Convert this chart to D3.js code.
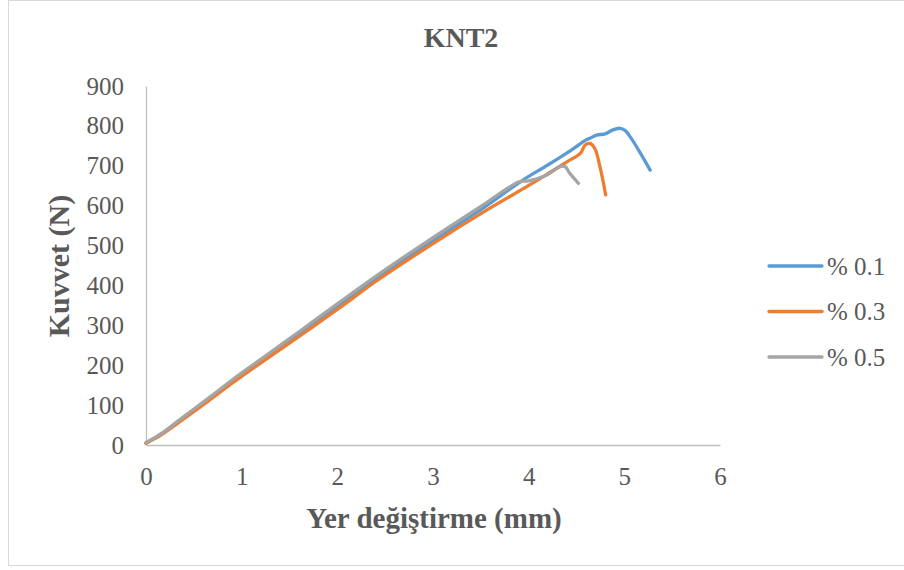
<!DOCTYPE html>
<html>
<head>
<meta charset="utf-8">
<script src="https://cdn.jsdelivr.net/npm/d3@7/dist/d3.min.js"></script>
<style>
  html, body { margin: 0; padding: 0; background: #fff; }
  svg { display: block; }
  text { font-family: "Liberation Serif", "Times New Roman", serif; fill: #595959; }
</style>
</head>
<body>
<svg id="chart" width="904" height="570"></svg>
<script>
// Force–displacement curves for specimen KNT2
const seriesNames = ["% 0.1", "% 0.3", "% 0.5"];
const seriesColors = ["#5B9BD5", "#ED7D31", "#A5A5A5"];

const disp01 = [0, 0.15, 0.35, 0.65, 0.9, 1.2, 1.6, 2.0, 2.45, 3.0, 3.5, 3.94, 4.2, 4.45, 4.6, 4.64, 4.71, 4.8, 4.88, 4.955, 5.01, 5.06, 5.16, 5.27];
const force01 = [5, 26, 61, 114, 160, 212, 280, 348, 425, 512, 590, 664, 702, 740, 765, 769, 777, 780, 790, 794, 788, 773, 735, 689];

const disp03 = [0, 0.15, 0.35, 0.65, 0.9, 1.2, 1.6, 2.0, 2.45, 3.0, 3.5, 4.01, 4.2, 4.4, 4.54, 4.59, 4.64, 4.69, 4.745, 4.805];
const force03 = [4, 24, 58, 110, 155, 206, 272, 340, 418, 505, 580, 652, 680, 710, 731, 752, 756, 744, 698, 627];

const disp05 = [0, 0.15, 0.35, 0.65, 0.9, 1.2, 1.6, 2.0, 2.45, 3.0, 3.5, 3.9, 4.0, 4.19, 4.33, 4.38, 4.43, 4.52];
const force05 = [6, 27, 63, 117, 163, 215, 284, 354, 431, 520, 598, 660, 662, 677, 698, 698, 681, 656];

const xTicks = [0, 1, 2, 3, 4, 5, 6];
const yTicks = [0, 100, 200, 300, 400, 500, 600, 700, 800, 900];

const series = [
  { name: seriesNames[0], color: seriesColors[0], x: disp01, y: force01 },
  { name: seriesNames[1], color: seriesColors[1], x: disp03, y: force03 },
  { name: seriesNames[2], color: seriesColors[2], x: disp05, y: force05 }
];

const svg = d3.select("#chart");

// chart frame
svg.append("rect")
  .attr("x", 8.5).attr("y", 0.5)
  .attr("width", 900).attr("height", 565)
  .attr("fill", "#fff").attr("stroke", "#D9D9D9").attr("stroke-width", 1);

const plot = { left: 146, right: 720, top: 86, bottom: 445 };

const x = d3.scaleLinear().domain([0, 6]).range([plot.left, plot.right]);
const y = d3.scaleLinear().domain([0, 900]).range([plot.bottom, plot.top]);

// axes
const xAxis = d3.axisBottom(x).tickValues(xTicks).tickSize(0).tickPadding(22).tickFormat(d3.format("d"));
const yAxis = d3.axisLeft(y).tickValues(yTicks).tickSize(0).tickPadding(22).tickFormat(d3.format("d"));

const gx = svg.append("g").attr("transform", `translate(0,${plot.bottom})`).call(xAxis);
const gy = svg.append("g").attr("transform", `translate(${plot.left},0)`).call(yAxis);

[gx, gy].forEach(g => {
  g.select(".domain").attr("stroke", "#BFBFBF").attr("stroke-width", 1.3);
  g.selectAll(".tick text")
    .attr("font-family", "Liberation Serif, Times New Roman, serif")
    .attr("font-size", 25)
    .attr("fill", "#595959");
});

// curves
const line = d3.line()
  .x(d => x(d[0]))
  .y(d => y(d[1]))
  .curve(d3.curveCatmullRom.alpha(0.5));

series.forEach(s => {
  svg.append("path")
    .datum(s.x.map((v, i) => [v, s.y[i]]))
    .attr("fill", "none")
    .attr("stroke", s.color)
    .attr("stroke-width", 3.3)
    .attr("stroke-linecap", "round")
    .attr("stroke-linejoin", "round")
    .attr("d", line);
});

// title
svg.append("text")
  .attr("x", 461).attr("y", 47)
  .attr("text-anchor", "middle")
  .attr("font-size", 28).attr("font-weight", "bold")
  .text("KNT2");

// axis titles
svg.append("text")
  .attr("x", 434).attr("y", 528)
  .attr("text-anchor", "middle")
  .attr("font-size", 29).attr("font-weight", "bold")
  .text("Yer değiştirme (mm)");

svg.append("text")
  .attr("transform", "translate(69,266) rotate(-90)")
  .attr("text-anchor", "middle")
  .attr("font-size", 30).attr("font-weight", "bold")
  .text("Kuvvet (N)");

// legend
const legend = svg.append("g");
series.forEach((s, i) => {
  const ly = 266 + i * 45.5;
  legend.append("line")
    .attr("x1", 769).attr("x2", 822)
    .attr("y1", ly).attr("y2", ly)
    .attr("stroke", s.color).attr("stroke-width", 3.3)
    .attr("stroke-linecap", "round");
  legend.append("text")
    .attr("x", 827).attr("y", ly)
    .attr("dy", "0.35em")
    .attr("font-size", 25)
    .text(s.name);
});
</script>
</body>
</html>
